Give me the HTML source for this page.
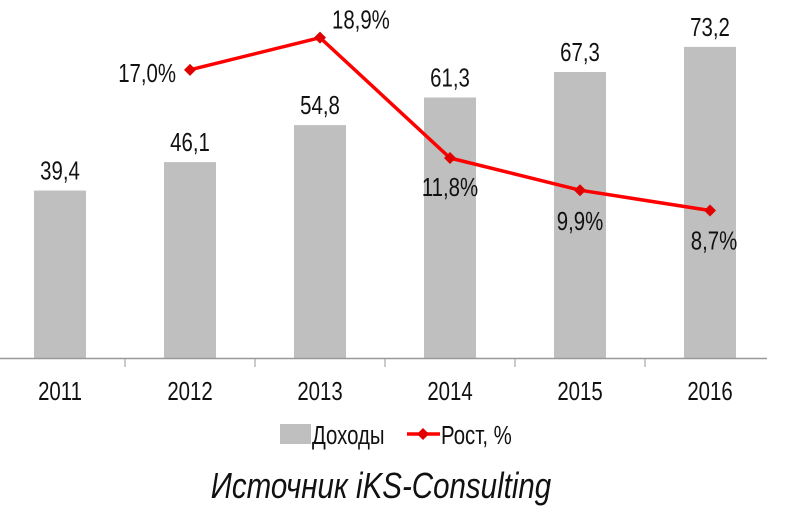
<!DOCTYPE html>
<html><head><meta charset="utf-8"><style>
html,body{margin:0;padding:0;background:#fff;width:800px;height:518px;overflow:hidden}
svg text{font-family:"Liberation Sans",sans-serif;fill:#111}
</style></head><body>
<svg id="chart" width="800" height="518" viewBox="0 0 800 518" xmlns="http://www.w3.org/2000/svg"></svg>
<script>
const categories=["2011","2012","2013","2014","2015","2016"];
const revenue=[39.4,46.1,54.8,61.3,67.3,73.2];
const revenueLabels=["39,4","46,1","54,8","61,3","67,3","73,2"];
const growth=[null,17.0,18.9,11.8,9.9,8.7];
const growthLabels=["","17,0%","18,9%","11,8%","9,9%","8,7%"];

const NS="http://www.w3.org/2000/svg";
const svg=document.getElementById('chart');
const x0=-5,catW=130,base=358;
const xC=i=>x0+catW*(i+0.5);
const yBar=v=>base-v*4.25;
const yLine=v=>base-v*16.95;
function mk(tag,attrs,parent){const e=document.createElementNS(NS,tag);for(const k in attrs)e.setAttribute(k,attrs[k]);(parent||svg).appendChild(e);return e;}
function txt(str,x,y,size,anchor,opts,sx){
  const g=mk('g',{transform:`translate(${x},${y}) scale(${sx||0.8},1)`});
  const t=mk('text',Object.assign({x:0,y:0,'font-size':size,'text-anchor':anchor||'middle'},opts||{}),g);
  t.textContent=str;return t;
}
const FS=25.5;
// bars
revenue.forEach((v,i)=>{
  const r=mk('rect',{x:xC(i)-26,y:yBar(v),width:52,height:base-yBar(v),fill:'#bfbfbf'});
  
  
  const t=txt(revenueLabels[i],xC(i),yBar(v)-11,FS);
  
  
});
// axis
const ax=mk('line',{x1:0,y1:base+0.5,x2:767,y2:base+0.5,stroke:'#999','stroke-width':1.5});


for(let i=1;i<categories.length;i++){mk('line',{x1:x0+catW*i,y1:base,x2:x0+catW*i,y2:base+9,stroke:'#999','stroke-width':1});}
categories.forEach((c,i)=>{
  const t=txt(c,xC(i),base+42,FS);
  
  
});
// line
const pts=[];growth.forEach((v,i)=>{if(v!==null)pts.push([xC(i),yLine(v),i]);});
const pl=mk('polyline',{points:pts.map(p=>p[0]+','+p[1]).join(' '),fill:'none',stroke:'#ff0000','stroke-width':3.5,'stroke-linejoin':'round'});


const lblPos=[null,[-14,12,'end'],[12,-9,'start'],[0,38,'middle'],[0,40,'middle'],[4,39,'middle']];
pts.forEach(([x,y,i])=>{
  const d=mk('path',{d:`M${x} ${y-6}L${x+6} ${y}L${x} ${y+6}L${x-6} ${y}Z`,fill:'#e00000'});
  
  
  const p=lblPos[i];
  const t=txt(growthLabels[i],x+p[0],y+p[1],FS,p[2]);
  
  
});
// legend
const lg=mk('g',{});


mk('rect',{x:280,y:424,width:31,height:20,fill:'#bfbfbf'},lg);
txt('Доходы',312,444,FS,'start');
mk('line',{x1:407,y1:434,x2:440,y2:434,stroke:'#ff0000','stroke-width':3.5},lg);
mk('path',{d:'M423 428L429 434L423 440L417 434Z',fill:'#e00000'},lg);
txt('Рост, %',441,444,FS,'start');
// source
const s=txt('Источник iKS-Consulting',381,498,36,'middle',{'font-style':'italic'},0.82);


</script>
</body></html>
